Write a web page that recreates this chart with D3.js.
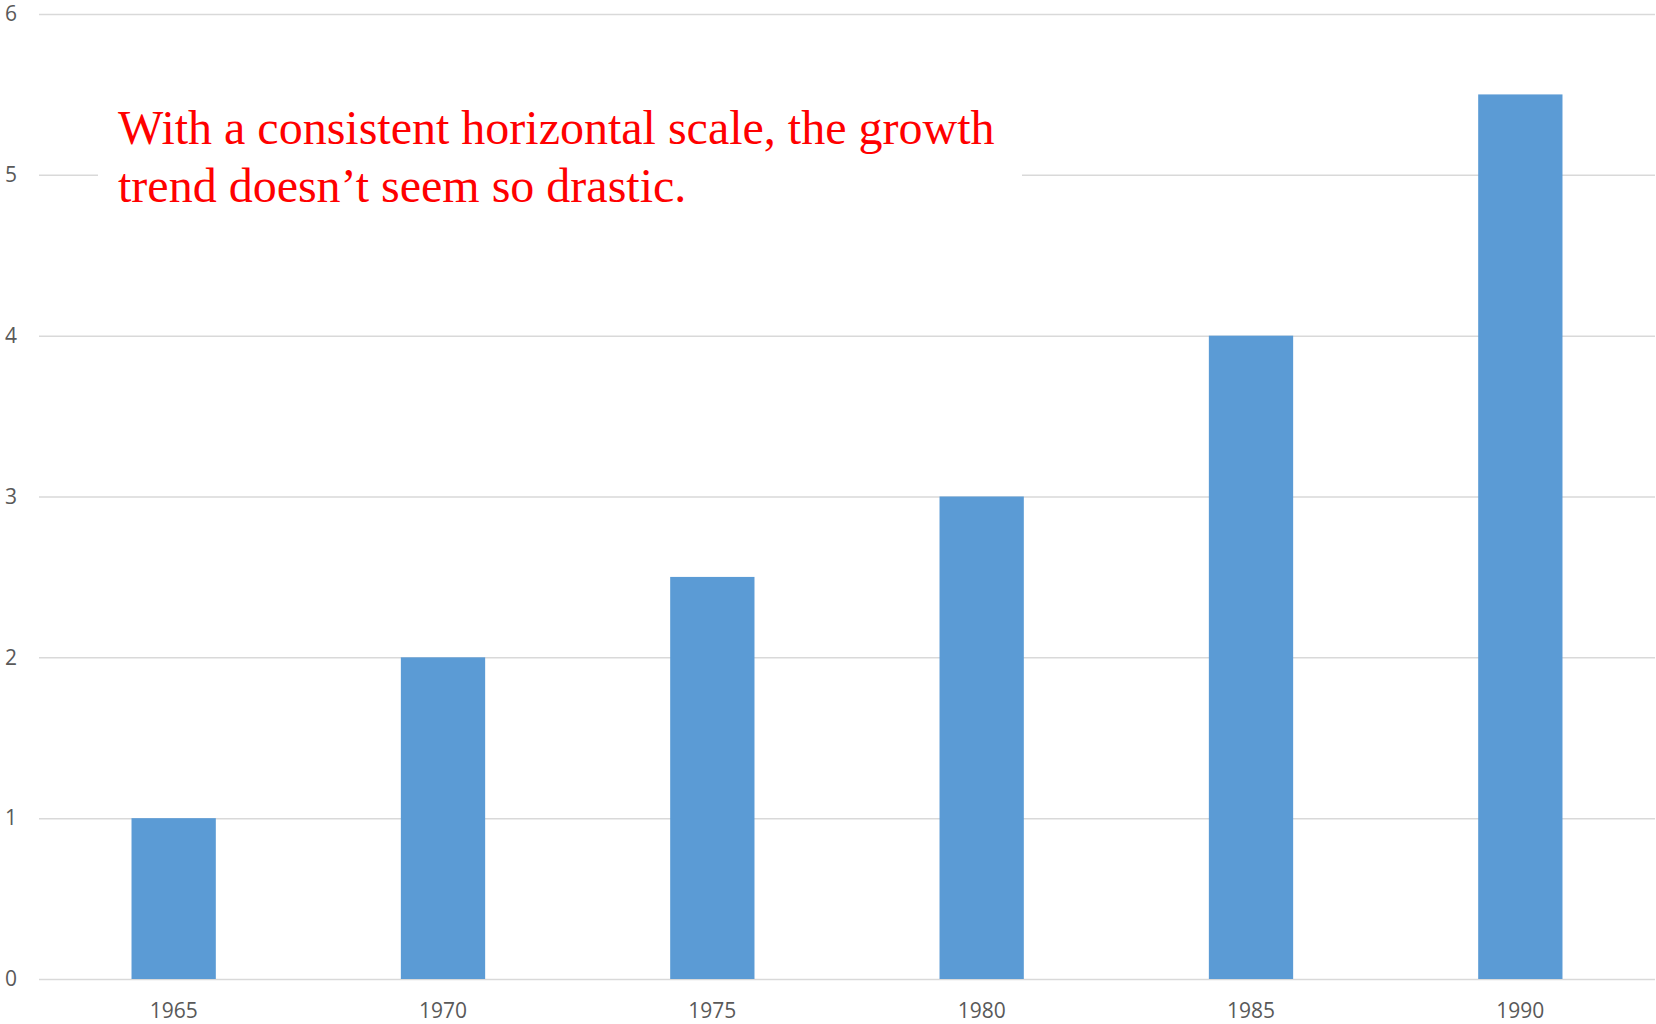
<!DOCTYPE html>
<html>
<head>
<meta charset="utf-8">
<script src="https://cdn.jsdelivr.net/npm/d3@7"></script>
<style>
  html, body { margin: 0; padding: 0; background: #fff; }
  svg { display: block; }
</style>
</head>
<body>
<svg id="chart" width="1656" height="1024"></svg>
<script>
// Data
const years = ["1965", "1970", "1975", "1980", "1985", "1990"];
const values = [1, 2, 2.5, 3, 4, 5.5];
const yTicks = [0, 1, 2, 3, 4, 5, 6];
const noteLines = [
  "With a consistent horizontal scale, the growth",
  "trend doesn\u2019t seem so drastic."
];

const svg = d3.select("#chart");
const W = 1656, H = 1024;
const margin = { left: 39, right: 1, top: 14, bottom: 45 };

const x = d3.scaleBand()
  .domain(years)
  .range([margin.left, W - margin.right])
  .paddingInner(0.687)
  .paddingOuter(0.3435);

const y = d3.scaleLinear()
  .domain([0, 6])
  .range([H - margin.bottom, margin.top]);

const labelFont = "'Open Sans', 'Liberation Sans', sans-serif";

// Horizontal gridlines with value labels
const yAxis = d3.axisLeft(y)
  .tickValues(yTicks)
  .tickSize(-(W - margin.left - margin.right))
  .tickPadding(22)
  .tickFormat(d3.format("d"));

const gy = svg.append("g")
  .attr("transform", `translate(${margin.left},0)`)
  .call(yAxis);
gy.select(".domain").remove();
gy.selectAll(".tick line")
  .attr("stroke", "#d9d9d9")
  .attr("stroke-width", 1.5);
gy.selectAll(".tick text")
  .attr("fill", "#595959")
  .attr("font-family", labelFont)
  .attr("font-size", "21px");

// Bars
svg.append("g")
  .selectAll("rect")
  .data(years.map((yr, i) => ({ yr, v: values[i] })))
  .join("rect")
  .attr("x", d => x(d.yr))
  .attr("width", x.bandwidth())
  .attr("y", d => y(d.v))
  .attr("height", d => y(0) - y(d.v))
  .attr("fill", "#5b9bd5");

// Category axis
const xAxis = d3.axisBottom(x).tickSize(0).tickPadding(24);
const gx = svg.append("g")
  .attr("transform", `translate(0,${y(0)})`)
  .call(xAxis);
gx.select(".domain").remove();
gx.selectAll(".tick text")
  .attr("fill", "#595959")
  .attr("font-family", labelFont)
  .attr("font-size", "21px");

// Annotation box
svg.append("rect")
  .attr("x", 98).attr("y", 96)
  .attr("width", 924).attr("height", 122)
  .attr("fill", "#fff");

svg.append("text")
  .attr("x", 118)
  .attr("y", 144)
  .attr("fill", "#ff0000")
  .attr("font-family", "'Liberation Serif', 'Times New Roman', serif")
  .attr("font-size", "48px")
  .selectAll("tspan")
  .data(noteLines)
  .join("tspan")
  .attr("x", 118)
  .attr("dy", (d, i) => i === 0 ? 0 : 58)
  .text(d => d);
</script>
</body>
</html>
